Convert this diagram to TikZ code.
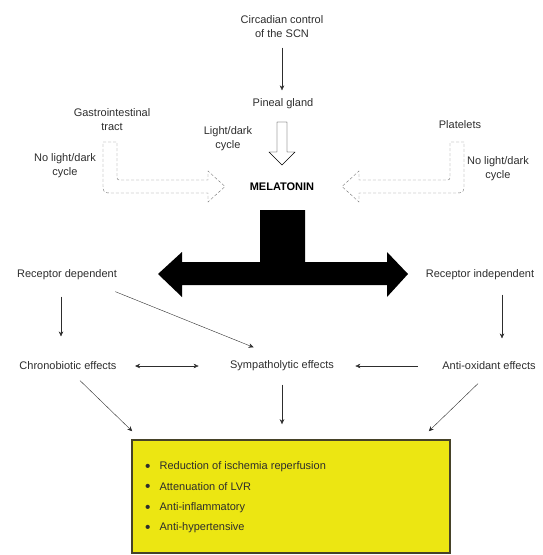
\documentclass[tikz,border=0pt]{standalone}
\usepackage{fontspec}
\setmainfont{Liberation Sans}
\definecolor{boxyellow}{RGB}{236,230,18}
\definecolor{boxrim}{RGB}{70,66,40}
\definecolor{dashgray}{RGB}{120,120,120}
\definecolor{txtgray}{RGB}{45,45,45}
\usetikzlibrary{arrows.meta}
\newcommand{\itembullet}{\raisebox{-1.5pt}{\scalebox{1.4}{\textbullet}}}

\begin{document}
\begin{tikzpicture}[x=1pt, y=-1pt,
    txt/.style={font=\fontsize{11}{14}\selectfont, text=txtgray, align=center},
    flow/.style={-{Stealth[length=5pt,width=4.5pt]}, thin, txtgray},
    hollow/.style={draw=dashgray, densely dashed, thin, fill=white}
  ]
    \useasboundingbox (0,0) rectangle (542,555);

    % Pineal input
    \node[txt] (scn) at (282,27) {Circadian control\\of the SCN};
    \node[txt] (pineal) at (283,104) {Pineal gland};
    \draw[flow, shorten <=6pt, shorten >=5pt] (scn.south) -- (scn.south |- pineal.north);
    \draw[fill=white, thin] (277,122) -- (287,122) -- (287,152) -- (295,152)
      -- (282,165) -- (269,152) -- (277,152) -- cycle;
    \node[txt] (light) at (228,139) {Light/dark\\cycle};

    % Side inputs (no light/dark cycle)
    \node[txt] (gut) at (112,120) {Gastrointestinal\\tract};
    \node[txt] (nolightl) at (65,166) {No light/dark\\cycle};
    \draw[hollow] (103,142) -- (117,142) -- (117,175) .. controls (117,180) .. (122,180)
      -- (208,180) -- (208,171) -- (225,186.5) -- (208,202) -- (208,193)
      -- (113,193) .. controls (103,193) .. (103,183) -- cycle;
    \node[txt] (plate) at (460,125) {Platelets};
    \node[txt] (nolightr) at (498,169) {No light/dark\\cycle};
    \draw[hollow] (464,142) -- (450,142) -- (450,175) .. controls (450,180) .. (445,180)
      -- (359,180) -- (359,171) -- (342,186.5) -- (359,202) -- (359,193)
      -- (454,193) .. controls (464,193) .. (464,183) -- cycle;

    \node[txt, font=\fontsize{11}{14}\selectfont\bfseries, text=black] (mel) at (282,187) {MELATONIN};

    % Split into the two pathways
    \fill[black] (260,210) -- (305,210) -- (305,262) -- (387,262) -- (387,252)
      -- (408,274) -- (387,297) -- (387,285) -- (182,285) -- (182,297)
      -- (158,274) -- (182,252) -- (182,262) -- (260,262) -- cycle;
    \node[txt] (recdep) at (67,275) {Receptor dependent};
    \node[txt] (recind) at (480,275) {Receptor independent};

    % Effects
    \node[txt] (chrono) at (68,366) {Chronobiotic effects};
    \node[txt] (symp) at (282,366) {Sympatholytic effects};
    \node[txt] (antiox) at (489,366) {Anti-oxidant effects};

    \draw[flow, shorten <=13pt, shorten >=22pt] ([xshift=-6pt]recdep.south) -- ([xshift=-7pt]chrono.north);
    \draw[flow] ([xshift=-5pt,yshift=-8pt]recdep.south east) -- ([xshift=27pt,yshift=10pt]symp.north west);
    \draw[flow, shorten <=11pt, shorten >=20pt] ([xshift=22pt]recind.south) -- ([xshift=13pt]antiox.north);
    \draw[flow, {Stealth[length=5pt,width=4.5pt]}-{Stealth[length=5pt,width=4.5pt]},
          shorten <=15pt, shorten >=28pt] (chrono.east) -- (symp.west);
    \draw[flow, shorten <=21pt, shorten >=18pt] (antiox.west) -- (symp.east);

    % Outcome
    \node[draw=boxrim, line width=1.5pt, fill=boxyellow, minimum width=318pt,
          minimum height=113pt, inner sep=0pt] (box) at (291,496.5) {};
    \node[txt, align=left, anchor=west, inner sep=0pt, font=\fontsize{11}{20.3}\selectfont]
      (items) at (145,497.5)
      {\itembullet\hspace{9pt}Reduction of ischemia reperfusion\\
       \itembullet\hspace{9pt}Attenuation of LVR\\
       \itembullet\hspace{9pt}Anti-inflammatory\\
       \itembullet\hspace{9pt}Anti-hypertensive};

    \draw[flow] ([xshift=12pt,yshift=-7pt]chrono.south) -- ([xshift=1pt,yshift=8pt]box.north west);
    \draw[flow, shorten <=10pt, shorten >=15pt] (symp.south) -- (symp.south |- box.north);
    \draw[flow] ([xshift=-11pt,yshift=-10pt]antiox.south) -- ([xshift=-22pt,yshift=8pt]box.north east);
  \end{tikzpicture}
\end{document}
